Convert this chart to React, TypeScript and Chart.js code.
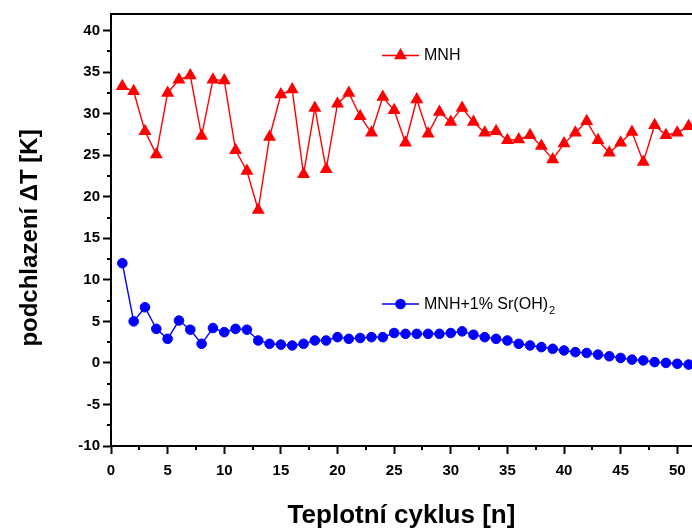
import React, { useEffect, useRef } from 'react';
import { Chart, registerables } from 'chart.js';

Chart.register(...registerables);

// ---- data ----
const cycles = [
  1, 2, 3, 4, 5, 6, 7, 8, 9, 10, 11, 12, 13, 14, 15, 16, 17, 18, 19, 20,
  21, 22, 23, 24, 25, 26, 27, 28, 29, 30, 31, 32, 33, 34, 35, 36, 37, 38, 39, 40,
  41, 42, 43, 44, 45, 46, 47, 48, 49, 50, 51,
];
const mnh = [
  33.3, 32.7, 27.9, 25.1, 32.5, 34.1, 34.6, 27.3, 34.1, 34.0,
  25.6, 23.1, 18.4, 27.2, 32.3, 32.9, 22.7, 30.7, 23.3, 31.2,
  32.5, 29.7, 27.7, 32.0, 30.4, 26.5, 31.7, 27.6, 30.2, 29.0,
  30.7, 29.0, 27.7, 27.9, 26.8, 26.9, 27.4, 26.1, 24.5, 26.4,
  27.7, 29.1, 26.8, 25.3, 26.5, 27.8, 24.2, 28.6, 27.4, 27.7, 28.5,
];
const mnhSr = [
  12.0, 5.0, 6.7, 4.1, 2.9, 5.1, 4.0, 2.3, 4.2, 3.7,
  4.1, 4.0, 2.7, 2.3, 2.2, 2.1, 2.3, 2.7, 2.7, 3.1,
  2.9, 3.0, 3.1, 3.1, 3.6, 3.5, 3.5, 3.5, 3.5, 3.6,
  3.8, 3.4, 3.1, 2.9, 2.7, 2.3, 2.1, 1.9, 1.7, 1.5,
  1.3, 1.2, 1.0, 0.8, 0.6, 0.4, 0.3, 0.1, 0.0, -0.1, -0.2,
];
const seriesNames = ['MNH', 'MNH+1% Sr(OH)', '2'];
const xTitle = 'Teplotní cyklus [n]';
const yTitle = 'podchlazení ΔT [K]';
const xRange = [0, 51.3];
const yRange = [-10, 42];
const majorStep = 5;
const minorStep = 2.5;

const FONT = "'Liberation Sans', Arial, sans-serif";
const RED = '#ff0000';
const BLUE = '#0000ff';

const decorPlugin = {
  id: 'decor',
  afterDraw(chart: any) {
    const { ctx, chartArea: a, scales } = chart;
    const x = scales.x;
    const y = scales.y;
    ctx.save();
    ctx.strokeStyle = '#000';
    ctx.lineWidth = 2;
    // top frame line
    ctx.beginPath();
    ctx.moveTo(a.left - 1, a.top);
    ctx.lineTo(a.right, a.top);
    ctx.stroke();
    // minor ticks
    ctx.beginPath();
    for (let v = xRange[0] + minorStep; v <= xRange[1]; v += majorStep) {
      const px = Math.round(x.getPixelForValue(v));
      ctx.moveTo(px, a.bottom);
      ctx.lineTo(px, a.bottom + 4);
    }
    for (let v = yRange[0] + minorStep; v <= yRange[1]; v += majorStep) {
      const py = Math.round(y.getPixelForValue(v));
      ctx.moveTo(a.left, py);
      ctx.lineTo(a.left - 4, py);
    }
    ctx.stroke();

    // y axis title
    ctx.save();
    ctx.translate(30.5, 238);
    ctx.rotate(-Math.PI / 2);
    ctx.fillStyle = '#000';
    ctx.font = `bold 24px ${FONT}`;
    ctx.textAlign = 'center';
    ctx.textBaseline = 'middle';
    ctx.fillText(yTitle, 0, 0);
    ctx.restore();

    // legends
    const drawLegend = (ly: number, color: string, shape: string, label: string, sub?: string) => {
      ctx.strokeStyle = color;
      ctx.fillStyle = color;
      ctx.lineWidth = 1.5;
      ctx.beginPath();
      ctx.moveTo(382, ly);
      ctx.lineTo(419, ly);
      ctx.stroke();
      const cx = 400.5;
      ctx.beginPath();
      if (shape === 'triangle') {
        const r = 7.5;
        ctx.moveTo(cx, ly - r);
        ctx.lineTo(cx + r * 0.866, ly + r / 2);
        ctx.lineTo(cx - r * 0.866, ly + r / 2);
        ctx.closePath();
      } else {
        ctx.arc(cx, ly, 5.3, 0, Math.PI * 2);
      }
      ctx.fill();
      ctx.fillStyle = '#000';
      ctx.font = `16px ${FONT}`;
      ctx.textBaseline = 'middle';
      ctx.textAlign = 'left';
      ctx.fillText(label, 424, ly + 0.5);
      if (sub) {
        const w = ctx.measureText(label).width;
        ctx.font = `11px ${FONT}`;
        ctx.fillText(sub, 424 + w + 1, ly + 7);
      }
    };
    drawLegend(55.5, RED, 'triangle', seriesNames[0]);
    drawLegend(304, BLUE, 'circle', seriesNames[1], seriesNames[2]);
    ctx.restore();
  },
};

export default function App() {
  const ref = useRef<HTMLCanvasElement | null>(null);
  useEffect(() => {
    if (!ref.current) return;
    const chart = new Chart(ref.current, {
      type: 'line',
      data: {
        datasets: [
          {
            label: seriesNames[0],
            data: cycles.map((c, i) => ({ x: c, y: mnh[i] })),
            borderColor: RED,
            backgroundColor: RED,
            borderWidth: 1.4,
            pointStyle: 'triangle',
            pointRadius: 7.5,
            pointBorderWidth: 0,
            pointBackgroundColor: RED,
            tension: 0,
          },
          {
            label: seriesNames[1] + seriesNames[2],
            data: cycles.map((c, i) => ({ x: c, y: mnhSr[i] })),
            borderColor: BLUE,
            backgroundColor: BLUE,
            borderWidth: 1.4,
            pointStyle: 'circle',
            pointRadius: 4.8,
            pointBorderWidth: 1,
            pointBackgroundColor: BLUE,
            tension: 0,
          },
        ],
      },
      options: {
        animation: false,
        responsive: false,
        layout: { autoPadding: false, padding: { top: 14, left: 0, right: 0, bottom: 0 } },
        plugins: { legend: { display: false }, tooltip: { enabled: false } },
        scales: {
          x: {
            type: 'linear',
            min: xRange[0],
            max: xRange[1],
            afterFit: (s: any) => {
              s.height = 83;
              s.paddingLeft = 0;
              s.paddingRight = 0;
            },
            border: { display: true, color: '#000', width: 2 },
            grid: {
              drawOnChartArea: false,
              drawTicks: true,
              tickLength: 8,
              tickWidth: 2,
              tickColor: (c: any) => (c.tick && Math.abs(c.tick.value % majorStep) < 1e-6 ? '#000' : 'rgba(0,0,0,0)'),
            },
            ticks: {
              stepSize: majorStep,
              includeBounds: false,
              autoSkip: false,
              maxRotation: 0,
              padding: 8,
              color: '#000',
              font: { family: FONT, size: 15, weight: 'bold' },
            },
            title: {
              display: true,
              text: xTitle,
              color: '#000',
              font: { family: FONT, size: 26, weight: 'bold', lineHeight: 1.05 },
              padding: { top: 0, bottom: 0 },
            },
          },
          y: {
            type: 'linear',
            min: yRange[0],
            max: yRange[1],
            afterFit: (s: any) => {
              s.width = 111;
              s.paddingTop = 0;
              s.paddingBottom = 0;
            },
            border: { display: true, color: '#000', width: 2 },
            grid: {
              drawOnChartArea: false,
              drawTicks: true,
              tickLength: 8,
              tickWidth: 2,
              tickColor: '#000',
            },
            ticks: {
              stepSize: majorStep,
              includeBounds: false,
              autoSkip: false,
              padding: 3,
              color: '#000',
              font: { family: FONT, size: 15, weight: 'bold' },
            },
            title: { display: false },
          },
        },
      },
      plugins: [decorPlugin],
    });
    return () => chart.destroy();
  }, []);
  return (
    <div style={{ position: 'absolute', left: 0, top: 0, width: 692, height: 529, background: '#fff' }}>
      <canvas ref={ref} width={692} height={529} style={{ display: 'block' }} />
    </div>
  );
}
